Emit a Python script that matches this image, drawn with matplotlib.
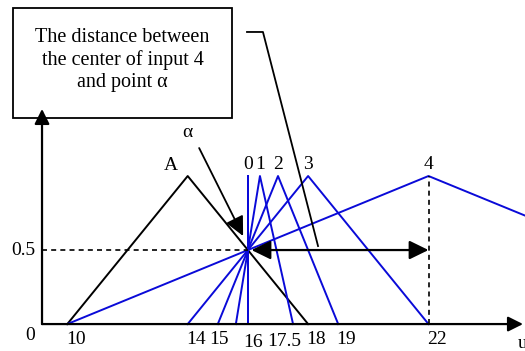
import matplotlib
matplotlib.use("Agg")
import matplotlib.pyplot as plt
from matplotlib.patches import Rectangle

plt.rcParams["font.family"] = ["Liberation Serif", "DejaVu Serif"]
plt.rcParams["font.size"] = 14

# triangular membership functions (left foot, peak, right foot)
input_names = ["0", "1", "2", "3", "4"]
input_left = [16, 15.6, 15, 14, 10]
input_peak = [16, 16.4, 17, 18, 22]
input_right = [16, 17.5, 19, 22, 34]

rule_name = "A"
rule_tri = [10, 14, 18]

alpha_u = 16
alpha_mu = 0.5

tick_values = [10, 14, 15, 16, 17.5, 18, 19, 22]
tick_labels = ["10", "14", "15", "16", "17.5", "18", "19", "22"]

BLUE = "#0a0ad8"
ORIGIN_X = 9.16

fig = plt.figure(figsize=(5.25, 3.51), dpi=100)
ax = fig.add_axes([0, 0, 1, 1])
ax.set_xlim(7.764, 25.206)
ax.set_ylim(-0.182, 2.189)
ax.axis("off")

arrow_kw = dict(color="black", lw=1.6, shrinkA=0, shrinkB=0)

# axes with arrow heads
ax.annotate("", xy=(25.14, 0), xytext=(ORIGIN_X, 0),
            arrowprops=dict(arrowstyle="-|>,head_length=0.5,head_width=0.25",
                            mutation_scale=18, **arrow_kw))
ax.annotate("", xy=(ORIGIN_X, 1.453), xytext=(ORIGIN_X, 0),
            arrowprops=dict(arrowstyle="-|>,head_length=0.5,head_width=0.25",
                            mutation_scale=18, **arrow_kw))

# rule triangle
ax.plot(rule_tri, [0, 1, 0], color="black", lw=1.4)
ax.text(rule_tri[1] - 0.55, 1.068, rule_name, ha="center", va="center")

# input triangles
for name, l, p, r in zip(input_names, input_left, input_peak, input_right):
    ax.plot([l, p, r], [0, 1, 0], color=BLUE, lw=1.4)
    ax.text(p, 1.08, name, ha="center", va="center")

# dashed guides
ax.plot([ORIGIN_X, alpha_u], [alpha_mu, alpha_mu], color="black", lw=1.2,
        ls=(0, (3, 2.5)))
ax.plot([input_peak[4], input_peak[4]], [0, 1], color="black", lw=1.2,
        ls=(0, (3, 2.5)))

# distance arrow from alpha to center of input 4
ax.annotate("", xy=(alpha_u + 0.12, alpha_mu), xytext=(input_peak[4], alpha_mu),
            arrowprops=dict(arrowstyle="<|-|>,head_length=0.45,head_width=0.22",
                            mutation_scale=26, **arrow_kw))

# alpha pointer
ax.annotate("", xy=(alpha_u - 0.16, 0.595), xytext=(14.38, 1.189),
            arrowprops=dict(arrowstyle="-|>,head_length=0.45,head_width=0.22",
                            mutation_scale=26, color="black", lw=1.3,
                            shrinkA=0, shrinkB=0))
ax.text(13.98, 1.297, "α", ha="center", va="center")

# caption box and its leader line
ax.add_patch(Rectangle((8.196, 1.392), 15.47 - 8.196, 2.135 - 1.392,
                       fill=False, ec="black", lw=1.3))
ax.text((8.196 + 15.47) / 2, 1.785,
        "The distance between\nthe center of input 4\nand point α",
        ha="center", va="center", fontsize=14.5, linespacing=1.2)
ax.plot([15.97, 16.50, 18.33], [1.973, 1.973, 0.527], color="black", lw=1.3)

# axis labels
for v, lab in zip(tick_values, tick_labels):
    dx, dy = 0, 0
    if lab == "15":
        dx = -0.25
    if lab == "17.5":
        dx, dy = -0.8, -0.015
    if lab == "16":
        dx, dy = -0.1, -0.02
    ax.text(v - 0.05 + dx, -0.105 + dy, lab, ha="left", va="center")
ax.text(8.93, -0.08, "0", ha="right", va="center")
ax.text(8.93, alpha_mu, "0.5", ha="right", va="center")
ax.text(24.97, -0.128, "u", ha="left", va="center")

fig.savefig("out.png", dpi=100)
